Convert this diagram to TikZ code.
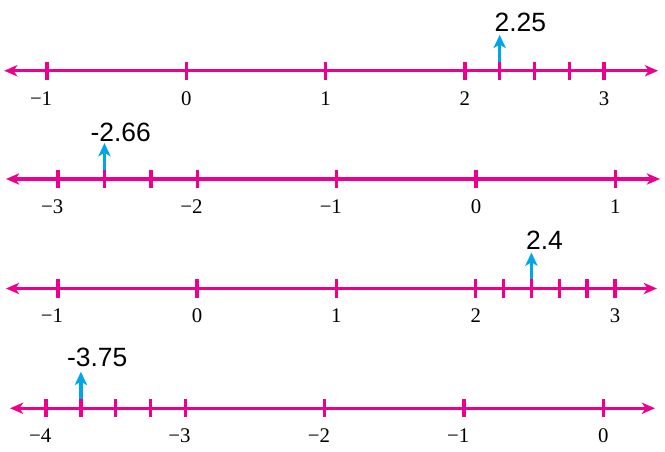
\documentclass[tikz,border=0pt]{standalone}
\usepackage{fontspec}
\setmainfont{Liberation Serif}
\newfontfamily\valuesans{Liberation Sans}
\usepackage{tikz}
\usetikzlibrary{arrows.meta}
\definecolor{numpink}{RGB}{236,0,140}
\definecolor{ptrblue}{RGB}{0,166,230}

\begin{document}
\begin{tikzpicture}[x=2cm, y=2cm,
    nline/.style={draw=numpink, line width=1.4pt,
                  {Stealth[length=5.4pt,width=4.6pt,inset=1.6pt]}-{Stealth[length=5.4pt,width=4.6pt,inset=1.6pt]}},
    tickmark/.style={draw=numpink, line width=1.4pt},
    ticklabel/.style={font=\fontsize{8.5}{10}\selectfont, anchor=base, inner sep=0},
    value/.style={font=\valuesans\fontsize{10.8}{12}\selectfont, anchor=base west, inner sep=0},
    ptr/.style={draw=ptrblue, line width=1.4pt, -{Stealth[length=5.4pt,width=5pt,inset=1.4pt]}}]

    \useasboundingbox (0,0) rectangle (4.774,-3.238);

    % line 1 : 2.25
    \coordinate (w1) at (0.030,-0.508);
    \coordinate (e1) at (4.724,-0.508);
    \draw[nline] (w1) -- (e1);
    \begin{scope}[shift={(1.337,-0.508)}]
        \foreach \t/\txt [count=\i] in {-1/\llap{−}1, 0/0, 1/1, 2/2, 3/3} {
            \draw[tickmark] (\t,0.065) -- (\t,-0.065);
            \node[ticklabel] (a\i) at (\t,-0.250) {\txt};
        }
        \foreach \t in {2.25,2.5,2.75}
            \draw[tickmark] (\t,0.065) -- (\t,-0.065);
        \coordinate (p1) at (2.25,0.065);
        \coordinate (q1) at (2.25,0.258);
        \node[value] (v1) at (2.21,0.280) {2.25};
        \draw[ptr] (p1) -- (q1);
    \end{scope}

    % line 2 : -2.66
    \coordinate (w2) at (0.043,-1.285);
    \coordinate (e2) at (4.738,-1.285);
    \draw[nline] (w2) -- (e2);
    \begin{scope}[shift={(3.417,-1.285)}]
        \foreach \t/\txt [count=\i] in {-3/\llap{−}3, -2/\llap{−}2, -1/\llap{−}1, 0/0, 1/1} {
            \draw[tickmark] (\t,0.065) -- (\t,-0.065);
            \node[ticklabel] (b\i) at (\t,-0.245) {\txt};
        }
        \foreach \t in {-2.667,-2.333}
            \draw[tickmark] (\t,0.065) -- (\t,-0.065);
        \coordinate (p2) at (-2.667,0.065);
        \coordinate (q2) at (-2.667,0.258);
        \node[value] (v2) at (-2.707,0.268) {\llap{-}2.66};
        \draw[ptr] (p2) -- (q2);
    \end{scope}

    % line 3 : 2.4
    \coordinate (w3) at (0.043,-2.071);
    \coordinate (e3) at (4.716,-2.071);
    \draw[nline] (w3) -- (e3);
    \begin{scope}[shift={(1.415,-2.071)}]
        \foreach \t/\txt [count=\i] in {-1/\llap{−}1, 0/0, 1/1, 2/2, 3/3} {
            \draw[tickmark] (\t,0.065) -- (\t,-0.065);
            \node[ticklabel] (c\i) at (\t,-0.245) {\txt};
        }
        \foreach \t in {2.2,2.4,2.6,2.8}
            \draw[tickmark] (\t,0.065) -- (\t,-0.065);
        \coordinate (p3) at (2.4,0.065);
        \coordinate (q3) at (2.4,0.258);
        \node[value] (v3) at (2.358,0.280) {2.4};
        \draw[ptr] (p3) -- (q3);
    \end{scope}

    % line 4 : -3.75
    \coordinate (w4) at (0.072,-2.931);
    \coordinate (e4) at (4.702,-2.931);
    \draw[nline] (w4) -- (e4);
    \begin{scope}[shift={(4.331,-2.931)}]
        \foreach \t/\txt [count=\i] in {-4/\llap{−}4, -3/\llap{−}3, -2/\llap{−}2, -1/\llap{−}1, 0/0} {
            \draw[tickmark] (\t,0.065) -- (\t,-0.065);
            \node[ticklabel] (d\i) at (\t,-0.245) {\txt};
        }
        \foreach \t in {-3.75,-3.5,-3.25}
            \draw[tickmark] (\t,0.065) -- (\t,-0.065);
        \coordinate (p4) at (-3.75,0.065);
        \coordinate (q4) at (-3.75,0.262);
        \node[value] (v4) at (-3.79,0.298) {\llap{-}3.75};
        \draw[ptr] (p4) -- (q4);
    \end{scope}
\end{tikzpicture}
\end{document}
